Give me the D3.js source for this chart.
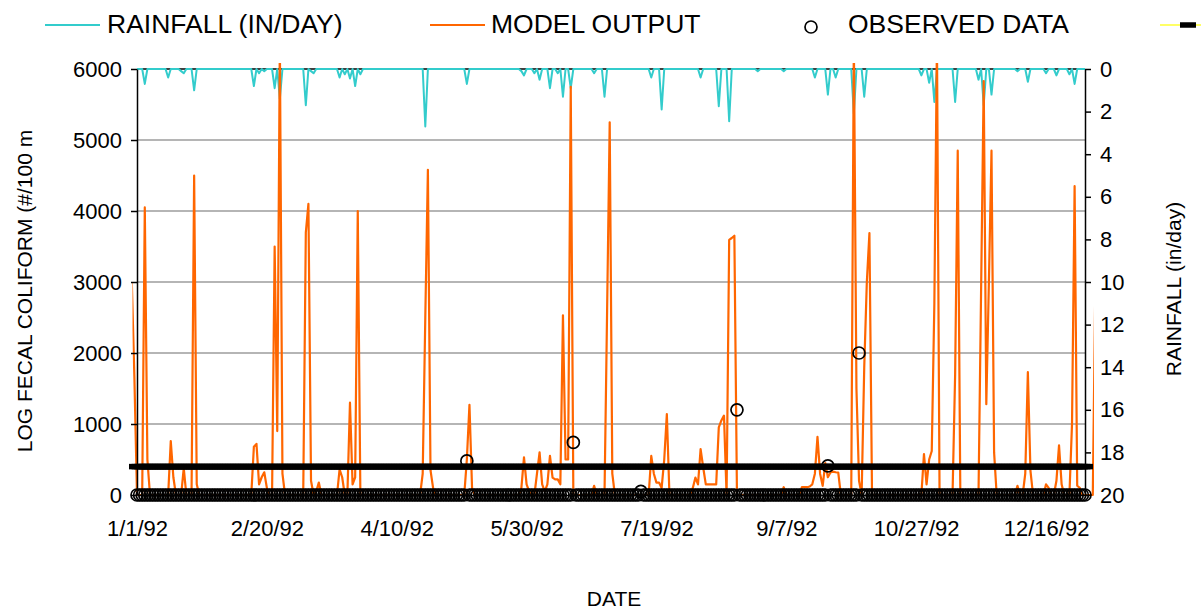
<!DOCTYPE html>
<html>
<head>
<meta charset="utf-8">
<script src="https://d3js.org/d3.v7.min.js"></script>
<style>
    body { margin: 0; background: #ffffff; }
    text { font-family: "Liberation Sans", Arial, sans-serif; fill: #000; }
</style>
</head>
<body>
<div id="chart"></div>
<script>
// daily rainfall, in/day, 1/1/92 .. 12/31/92 (10 days per row)
var rainfall = [
    0,0,0,0.7,0,0,0,0,0,0,
    0,0,0.4,0,0,0,0,0.1,0.2,0,
    0,0,1.0,0,0,0,0,0,0,0,
    0,0,0,0,0,0,0,0,0,0,
    0,0,0,0,0,0.8,0,0.2,0,0.1,
    0,0,0,0.9,0,1.4,0,0,0,0,
    0,0,0,0,0,1.7,0,0.1,0.2,0,
    0,0,0,0,0,0,0,0,0.4,0,
    0.25,0,0.45,0,0.8,0,0.25,0,0,0,
    0,0,0,0,0,0,0,0,0,0,
    0,0,0,0,0,0,0,0,0,0,
    0,2.7,0,0,0,0,0,0,0,0,
    0,0,0,0,0,0,0,0.7,0,0,
    0,0,0,0,0,0,0,0,0,0,
    0,0,0,0,0,0,0,0,0.1,0.3,
    0,0,0,0.2,0,0.5,0,0,0,0.9,
    0,0,0.2,0,1.3,0,0,0.9,0,0,
    0,0,0,0,0,0,0.2,0,0,0,
    1.3,0,0,0,0,0,0,0,0,0,
    0,0,0,0,0,0,0,0,0.4,0,
    0,0,1.9,0,0,0,0,0,0,0,
    0,0,0,0,0,0,0,0.4,0,0,
    0,0,0,0,1.75,0,0,0,2.45,0,
    0,0,0,0,0,0,0,0,0,0.1,
    0,0,0,0,0,0,0,0,0,0.1,
    0,0,0,0,0,0,0,0,0,0,
    0,0.4,0,0,0,0,1.2,0,0,0.4,
    0,0,0,0,0,0,2.1,0,0,0,
    1.3,0,0,0,0,0,0,0,0,0,
    0,0,0,0,0,0,0,0,0,0,
    0,0,0.3,0,0,0.65,0,1.55,0,0,
    0,0,0,0,0,1.55,0,0,0,0,
    0,0,0,0,0.5,0,1.7,0,0,1.2,
    0,0,0,0,0,0,0,0,0,0.1,
    0,0,0,0.6,0,0,0,0,0,0,
    0.2,0,0,0,0.3,0,0,0,0,0.25,
    0,0.7,0,0,0,0
];

// model output, #/100 ml, starts 12/30/91 and runs a few days past 12/31/92
var modelOutput = [
    3000,1650,
    0,0,0,4050,500,0,0,0,0,0,
    0,0,0,760,250,0,0,0,380,0,
    0,0,4500,150,0,0,0,0,0,0,
    0,0,0,0,0,0,0,0,0,0,
    0,0,0,0,0,680,720,150,250,320,
    100,0,0,3500,900,6400,300,0,0,0,
    0,0,0,0,0,3700,4100,200,0,50,
    175,0,0,0,0,0,0,0,360,250,
    0,0,1300,150,250,4000,0,0,0,0,
    0,0,0,0,0,0,0,0,0,0,
    0,0,0,0,0,0,0,0,0,0,
    300,2500,4580,350,100,0,0,0,0,0,
    0,0,0,0,0,0,0,500,1270,100,
    0,0,0,0,0,0,0,0,0,0,
    0,0,0,0,0,0,0,0,100,530,
    150,50,0,0,300,600,150,50,150,550,
    245,220,220,150,2530,500,500,5750,0,0,
    0,0,0,0,0,0,130,0,0,0,
    0,2600,5250,300,0,0,0,0,0,0,
    0,0,0,0,0,0,0,0,550,300,
    175,175,100,500,1140,0,0,0,0,0,
    0,0,0,0,100,245,150,646,387,150,
    150,150,150,150,953,1050,1118,0,3594,3620,
    3651,0,0,0,0,0,0,0,0,0,
    0,0,0,0,0,0,0,0,0,110,
    0,0,0,0,0,0,110,110,110,120,
    150,300,820,300,130,450,250,316,330,320,
    316,0,0,0,0,0,6400,1500,200,0,
    1800,3000,3690,0,0,0,0,0,0,0,
    0,0,0,0,0,0,0,0,0,0,
    0,0,0,575,150,500,620,2700,6400,0,
    0,0,0,0,0,1700,4850,0,0,0,
    0,0,0,0,0,2900,5830,1280,3000,4850,
    600,0,0,0,0,0,0,0,0,130,
    0,0,300,1730,340,0,0,0,0,0,
    150,100,0,0,200,700,150,0,0,0,
    1000,4350,130,100,0,0,
    0,0,0,3000
];

// observed data, #/100 ml, 1/1/92 .. 12/31/92
var observed = [
    0,0,0,0,0,0,0,0,0,0,
    0,0,0,0,0,0,0,0,0,0,
    0,0,0,0,0,0,0,0,0,0,
    0,0,0,0,0,0,0,0,0,0,
    0,0,0,0,0,0,0,0,0,0,
    0,0,0,0,0,0,0,0,0,0,
    0,0,0,0,0,0,0,0,0,0,
    0,0,0,0,0,0,0,0,0,0,
    0,0,0,0,0,0,0,0,0,0,
    0,0,0,0,0,0,0,0,0,0,
    0,0,0,0,0,0,0,0,0,0,
    0,0,0,0,0,0,0,0,0,0,
    0,0,0,0,0,0,0,480,0,0,
    0,0,0,0,0,0,0,0,0,0,
    0,0,0,0,0,0,0,0,0,0,
    0,0,0,0,0,0,0,0,0,0,
    0,0,0,0,0,0,0,0,740,0,
    0,0,0,0,0,0,0,0,0,0,
    0,0,0,0,0,0,0,0,0,0,
    0,0,0,0,50,0,0,0,0,0,
    0,0,0,0,0,0,0,0,0,0,
    0,0,0,0,0,0,0,0,0,0,
    0,0,0,0,0,0,0,0,0,0,
    0,1200,0,0,0,0,0,0,0,0,
    0,0,0,0,0,0,0,0,0,0,
    0,0,0,0,0,0,0,0,0,0,
    0,0,0,0,0,0,410,0,0,0,
    0,0,0,0,0,0,0,0,2000,0,
    0,0,0,0,0,0,0,0,0,0,
    0,0,0,0,0,0,0,0,0,0,
    0,0,0,0,0,0,0,0,0,0,
    0,0,0,0,0,0,0,0,0,0,
    0,0,0,0,0,0,0,0,0,0,
    0,0,0,0,0,0,0,0,0,0,
    0,0,0,0,0,0,0,0,0,0,
    0,0,0,0,0,0,0,0,0,0,
    0,0,0,0,0,0
];

var standardLimit = 400;   // 4th series, one marker per day

var dateTicks = ["1/1/92", "2/20/92", "4/10/92", "5/30/92", "7/19/92", "9/7/92", "10/27/92", "12/16/92"];
var coliformTicks = [0, 1000, 2000, 3000, 4000, 5000, 6000];
var gridTicks = [1000, 2000, 3000, 4000, 5000];
var rainTicks = [0, 2, 4, 6, 8, 10, 12, 14, 16, 18, 20];

var width = 1201;
var height = 611;
var plotLeft = 137, plotRight = 1085, plotTop = 69, plotBottom = 495;

var days = d3.utcDay.range(Date.UTC(1992, 0, 1), Date.UTC(1993, 0, 1));
var modelDays = d3.utcDay.range(Date.UTC(1991, 11, 30), Date.UTC(1993, 0, 5));
console.log(days.length, rainfall.length, observed.length, modelDays.length, modelOutput.length);

var parseDate = d3.utcParse("%m/%d/%y");

var x = d3.scaleUtc()
    .domain([days[0], days[days.length - 1]])
    .range([plotLeft, plotRight]);

var y = d3.scaleLinear()
    .domain([0, 6000])
    .range([plotBottom, plotTop]);

var yRain = d3.scaleLinear()
    .domain([0, 20])
    .range([plotTop, plotBottom]);

var svg = d3.select("#chart")
    .append("svg")
    .attr("width", width)
    .attr("height", height)
    .style("display", "block");

svg.append("rect")
    .attr("width", width)
    .attr("height", height)
    .attr("fill", "#ffffff");

svg.append("defs")
    .append("clipPath")
    .attr("id", "modelClip")
    .append("rect")
    .attr("x", plotLeft - 4.5)
    .attr("y", plotTop - 6)
    .attr("width", plotRight - plotLeft + 13.5)
    .attr("height", plotBottom - plotTop + 20);

// gridlines
svg.append("g")
    .selectAll("line")
    .data(gridTicks)
    .enter()
    .append("line")
    .attr("x1", plotLeft)
    .attr("x2", plotRight)
    .attr("y1", (d) => y(d))
    .attr("y2", (d) => y(d))
    .attr("stroke", "#9c9c9c")
    .attr("stroke-width", 1.3);

// secondary category axis along the top
svg.append("line")
    .attr("x1", plotLeft)
    .attr("x2", plotRight)
    .attr("y1", plotTop)
    .attr("y2", plotTop)
    .attr("stroke", "#000")
    .attr("stroke-width", 1.5);

var rainLine = d3.line()
    .x((d, i) => x(days[i]))
    .y((d) => yRain(d));

svg.append("path")
    .datum(rainfall)
    .attr("d", rainLine)
    .attr("fill", "none")
    .attr("stroke", "#33CCCC")
    .attr("stroke-width", 2)
    .attr("stroke-linejoin", "round");

var modelLine = d3.line()
    .x((d, i) => x(modelDays[i]))
    .y((d) => y(d));

svg.append("path")
    .datum(modelOutput)
    .attr("d", modelLine)
    .attr("clip-path", "url(#modelClip)")
    .attr("fill", "none")
    .attr("stroke", "#FF6600")
    .attr("stroke-width", 2.2)
    .attr("stroke-linejoin", "round");

// axes
var leftAxis = svg.append("g")
    .attr("transform", "translate(" + plotLeft + ",0)")
    .call(d3.axisLeft(y)
        .tickValues(coliformTicks)
        .tickFormat(d3.format("d"))
        .tickSize(6)
        .tickSizeOuter(0)
        .tickPadding(9));

var rightAxis = svg.append("g")
    .attr("transform", "translate(" + plotRight + ",0)")
    .call(d3.axisRight(yRain)
        .tickValues(rainTicks)
        .tickFormat(d3.format("d"))
        .tickSize(6)
        .tickSizeOuter(0)
        .tickPadding(9));

var bottomAxis = svg.append("g")
    .attr("transform", "translate(0," + plotBottom + ")")
    .call(d3.axisBottom(x)
        .tickValues(dateTicks.map(parseDate))
        .tickFormat(d3.utcFormat("%-m/%-d/%y"))
        .tickSize(0)
        .tickSizeOuter(0)
        .tickPadding(25));

[leftAxis, rightAxis, bottomAxis].forEach(function(g) {
    g.attr("font-family", null).attr("font-size", null);
    g.selectAll("text").style("font-size", "22px");
    g.selectAll("path, line").attr("stroke", "#000").attr("stroke-width", 1.5);
});

// standard limit markers (black dashes)
svg.append("g")
    .selectAll("rect")
    .data(days)
    .enter()
    .append("rect")
    .attr("x", (d) => x(d) - 8)
    .attr("y", y(standardLimit) - 2.75)
    .attr("width", 16)
    .attr("height", 5.5)
    .attr("fill", "#000");

// observed data
svg.append("g")
    .selectAll("circle")
    .data(observed)
    .enter()
    .append("circle")
    .attr("cx", (d, i) => x(days[i]))
    .attr("cy", (d) => y(d))
    .attr("r", 6)
    .attr("fill", "none")
    .attr("stroke", "#000")
    .attr("stroke-width", 1.7);

// axis titles
svg.append("text")
    .attr("transform", "translate(32,291) rotate(-90)")
    .attr("text-anchor", "middle")
    .style("font-size", "21px")
    .text("LOG FECAL COLIFORM (#/100 m");

svg.append("text")
    .attr("transform", "translate(1181,289) rotate(-90)")
    .attr("text-anchor", "middle")
    .style("font-size", "21px")
    .text("RAINFALL (in/day)");

svg.append("text")
    .attr("x", 614)
    .attr("y", 606)
    .attr("text-anchor", "middle")
    .style("font-size", "21px")
    .text("DATE");

// legend
var legend = svg.append("g");

legend.append("line")
    .attr("x1", 45).attr("x2", 100)
    .attr("y1", 25).attr("y2", 25)
    .attr("stroke", "#33CCCC")
    .attr("stroke-width", 2);

legend.append("text")
    .attr("x", 107)
    .attr("y", 33)
    .style("font-size", "26.5px")
    .text("RAINFALL (IN/DAY)");

legend.append("line")
    .attr("x1", 430).attr("x2", 485)
    .attr("y1", 25).attr("y2", 25)
    .attr("stroke", "#FF6600")
    .attr("stroke-width", 2.2);

legend.append("text")
    .attr("x", 491)
    .attr("y", 33)
    .style("font-size", "26.5px")
    .text("MODEL OUTPUT");

legend.append("circle")
    .attr("cx", 811)
    .attr("cy", 27)
    .attr("r", 6)
    .attr("fill", "none")
    .attr("stroke", "#000")
    .attr("stroke-width", 1.7);

legend.append("text")
    .attr("x", 848)
    .attr("y", 33)
    .style("font-size", "26.5px")
    .text("OBSERVED DATA");

legend.append("line")
    .attr("x1", 1160).attr("x2", 1215)
    .attr("y1", 25).attr("y2", 25)
    .attr("stroke", "#FFFF66")
    .attr("stroke-width", 2);

legend.append("rect")
    .attr("x", 1180)
    .attr("y", 22.25)
    .attr("width", 16)
    .attr("height", 5.5)
    .attr("fill", "#000");
</script>
</body>
</html>
